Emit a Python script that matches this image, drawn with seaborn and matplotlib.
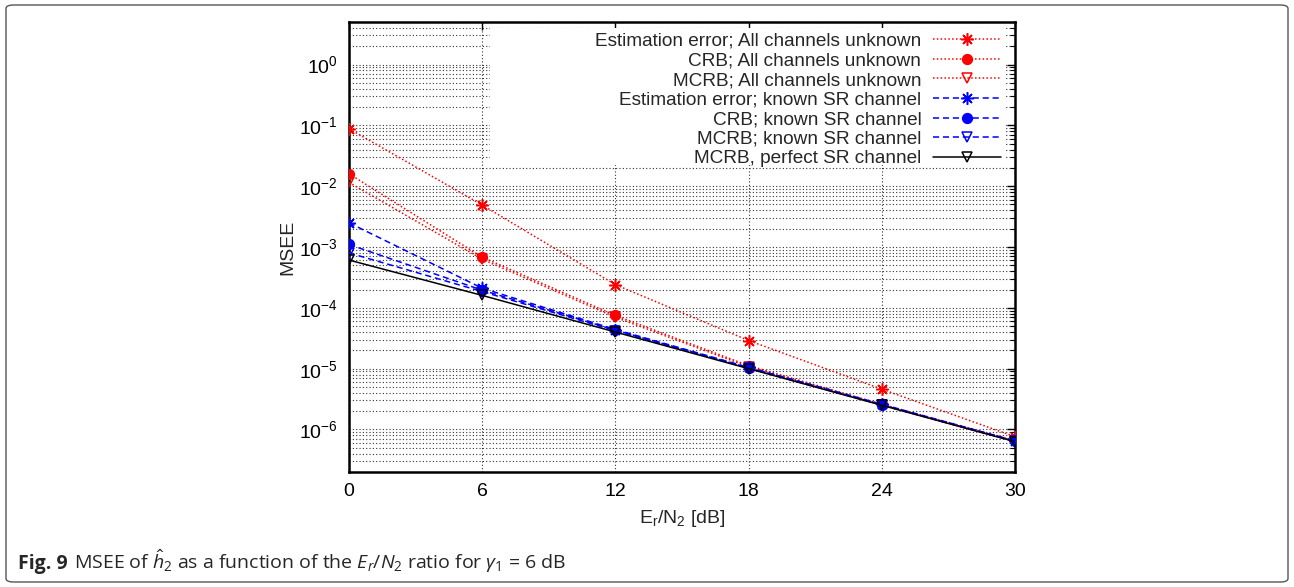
import numpy as np
import pandas as pd
import matplotlib
matplotlib.use("Agg")
import matplotlib.pyplot as plt
import seaborn as sns
from matplotlib.patches import Rectangle, FancyBboxPatch
from matplotlib.ticker import LogLocator, NullFormatter, FixedLocator

# ---------------- data ----------------
snr_db = [0, 6, 12, 18, 24, 30]
ee_all = [0.088, 0.0049, 2.4e-4, 2.9e-5, 4.6e-6, 7.6e-7]
crb_all = [0.016, 6.8e-4, 7.5e-5, 1.12e-5, 2.6e-6, 6.6e-7]
mcrb_all = [0.0115, 6.3e-4, 7.0e-5, 1.07e-5, 2.55e-6, 6.4e-7]
ee_known = [2.5e-3, 2.1e-4, 4.4e-5, 1.05e-5, 2.6e-6, 6.5e-7]
crb_known = [1.1e-3, 1.95e-4, 4.3e-5, 1.03e-5, 2.55e-6, 6.4e-7]
mcrb_known = [8.0e-4, 1.85e-4, 4.2e-5, 1.02e-5, 2.52e-6, 6.35e-7]
mcrb_perfect = [6.1e-4, 1.6e-4, 4.0e-5, 1.0e-5, 2.5e-6, 6.3e-7]

labels = [
    "Estimation error; All channels unknown",
    "CRB; All channels unknown",
    "MCRB; All channels unknown",
    "Estimation error; known SR channel",
    "CRB; known SR channel",
    "MCRB; known SR channel",
    "MCRB, perfect SR channel",
]
series = [ee_all, crb_all, mcrb_all, ee_known, crb_known, mcrb_known, mcrb_perfect]
x_ticks = [0, 6, 12, 18, 24, 30]

# ---------------- styles ----------------
sns.set_theme(style="white")
plt.rcParams["font.family"] = ["Liberation Sans", "DejaVu Sans"]
plt.rcParams["mathtext.fontset"] = "custom"
plt.rcParams["mathtext.rm"] = "Liberation Sans"
plt.rcParams["mathtext.it"] = "Liberation Sans:italic"

red, blue, black = "#ff0000", "#0000ff", "#000000"
aster = (8, 2, 0)
styles = [
    dict(color=red, ls=(0, (1, 1.5)), marker=aster, mfc=red, ms=9),
    dict(color=red, ls=(0, (1, 1.5)), marker="o", mfc=red, ms=7),
    dict(color=red, ls=(0, (1, 1.5)), marker="v", mfc="none", ms=7),
    dict(color=blue, ls=(0, (4, 2.5)), marker=aster, mfc=blue, ms=9),
    dict(color=blue, ls=(0, (4, 2.5)), marker="o", mfc=blue, ms=7),
    dict(color=blue, ls=(0, (4, 2.5)), marker="v", mfc="none", ms=7),
    dict(color=black, ls="-", marker="v", mfc="none", ms=7),
]

df = pd.DataFrame({
    "snr": np.tile(snr_db, len(labels)),
    "msee": np.concatenate(series),
    "curve": np.repeat(labels, len(snr_db)),
})

W, H = 1294, 587
fig = plt.figure(figsize=(W / 100, H / 100), dpi=100)
ax = fig.add_axes([349 / W, 1 - 472 / H, (1015 - 349) / W, (472 - 22) / H])

for lab, st in zip(labels, styles):
    sub = df[df["curve"] == lab]
    sns.lineplot(data=sub, x="snr", y="msee", ax=ax, label=lab,
                 color=st["color"], linestyle=st["ls"], marker=st["marker"],
                 markerfacecolor=st["mfc"], markeredgecolor=st["color"],
                 markersize=st["ms"], markeredgewidth=1.1, linewidth=1.1,
                 zorder=3)

ax.set_yscale("log")
ax.set_ylim(2e-7, 5)
ax.set_xlim(0, 30)
ax.xaxis.set_major_locator(FixedLocator(x_ticks))
ax.yaxis.set_major_locator(LogLocator(base=10, numticks=20))
ax.yaxis.set_minor_locator(LogLocator(base=10, subs=np.arange(2, 10), numticks=20))
ax.yaxis.set_minor_formatter(NullFormatter())

ax.set_axisbelow(True)
gkw = dict(color="#333333", linewidth=0.8, linestyle=(0, (1, 2)))
ax.grid(True, which="major", axis="both", **gkw)
ax.grid(True, which="minor", axis="y", **gkw)

ax.tick_params(axis="both", which="both", direction="in", top=True, right=True,
               colors="black", labelsize=14)
ax.tick_params(which="major", length=6, width=1)
ax.tick_params(which="minor", length=3.5, width=0.8)
ax.tick_params(axis="x", pad=8)
ax.tick_params(axis="y", pad=8)
for sp in ax.spines.values():
    sp.set_color("black")
    sp.set_linewidth(1.8)

ax.set_xlabel(r"E$_\mathregular{r}$/N$_\mathregular{2}$ [dB]", fontsize=14, labelpad=6)
ax.set_ylabel("MSEE", fontsize=14, labelpad=2)

# white key area (gnuplot key box without border)
ax.add_patch(Rectangle((0.212, 0.683), 0.775, 0.303, transform=ax.transAxes,
                       facecolor="white", edgecolor="none", zorder=1))

leg = ax.legend(loc="upper right", bbox_to_anchor=(0.985, 0.985), frameon=False,
                markerfirst=False, fontsize=13.7, handlelength=3.6,
                handletextpad=0.6, labelspacing=0.12, borderpad=0.2,
                borderaxespad=0)

# caption and border
fig.patches.append(FancyBboxPatch((6 / W, 5 / H), 1282 / W, 577 / H,
                                  boxstyle="round,pad=0,rounding_size=0.006",
                                  transform=fig.transFigure, facecolor="none",
                                  edgecolor="#555555", linewidth=1.0))
cap_font = ["Open Sans", "DejaVu Sans"]
plt.rcParams["mathtext.rm"] = "Open Sans"
plt.rcParams["mathtext.it"] = "Open Sans:italic"
cap_y = 1 - 569 / H
t1 = fig.text(18 / W, cap_y, "Fig. 9", fontsize=14, fontweight="bold",
              family=cap_font, va="baseline", ha="left")
fig.canvas.draw()
bb = t1.get_window_extent(renderer=fig.canvas.get_renderer())
fig.text((bb.x1 + 6) / W, cap_y,
         r"MSEE of $\hat{h}_2$ as a function of the $E_r/N_2$ ratio for $\gamma_1$ = 6 dB",
         fontsize=14, family=cap_font, va="baseline", ha="left")

fig.savefig("out.png", dpi=100, facecolor="white")
